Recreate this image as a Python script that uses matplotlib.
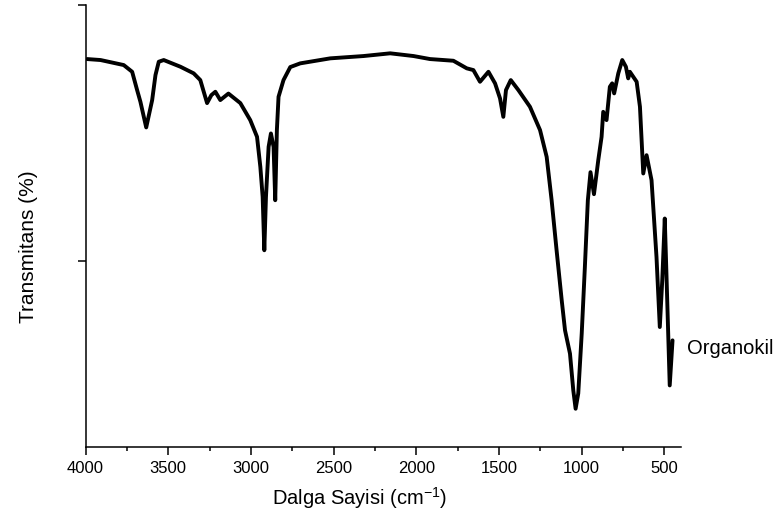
import matplotlib
matplotlib.use("Agg")
import matplotlib.pyplot as plt
from matplotlib.ticker import MultipleLocator, NullFormatter

plt.rcParams["font.family"] = ["Liberation Sans", "DejaVu Sans"]
plt.rcParams["mathtext.default"] = "regular"

# FTIR spectrum (wavenumber cm-1, transmittance %)
wavenumber = [
    3990, 3909, 3769, 3718, 3688, 3668, 3633, 3597, 3577, 3557, 3527, 3426,
    3346, 3306, 3265, 3239, 3215, 3185, 3136, 3064, 3004, 2963, 2943, 2929,
    2919, 2909, 2893, 2879, 2863, 2853, 2843, 2833, 2803, 2762, 2702, 2520,
    2319, 2158, 2017, 1917, 1776, 1695, 1655, 1615, 1564, 1524, 1494, 1474,
    1458, 1429, 1383, 1313, 1252, 1212, 1182, 1152, 1121, 1101, 1071, 1051,
    1037, 1021, 1000, 981, 963, 947, 926, 900, 880, 870, 850, 830,
    816, 804, 779, 755, 733, 719, 709, 668, 648, 628, 608, 578,
    548, 528, 513, 498, 488, 468, 451,
]
transmittance = [
    89.45, 89.26, 88.28, 86.97, 83.40, 81.11, 76.11, 81.45, 86.33, 88.93, 89.26, 87.95,
    86.66, 85.35, 80.86, 82.42, 83.07, 81.45, 82.72, 80.86, 77.54, 74.28, 68.42, 62.56,
    52.15, 62.56, 72.33, 74.94, 72.33, 61.91, 75.59, 82.09, 85.35, 87.89, 88.61, 89.59,
    90.04, 90.57, 90.04, 89.45, 89.12, 87.64, 87.30, 85.02, 86.97, 84.71, 81.78, 78.18,
    83.40, 85.35, 83.40, 80.14, 75.59, 70.37, 61.91, 52.15, 42.39, 36.53, 31.98, 24.81,
    21.23, 24.22, 35.94, 48.89, 61.91, 67.38, 63.09, 69.73, 74.28, 79.16, 77.54, 84.04,
    84.71, 82.75, 86.66, 89.26, 87.95, 85.68, 86.97, 85.02, 80.14, 67.13, 70.70, 65.82,
    50.84, 37.17, 46.40, 58.34, 47.66, 25.78, 34.57,
]
sample_label = "Organokil"
x_label = "Dalga Sayisi (cm$^{-1}$)"
y_label = "Transmitans (%)"

fig = plt.figure(figsize=(7.83, 5.14), dpi=100)
ax = fig.add_axes([0.1092, 0.1294, 0.7605, 0.8609])

ax.plot(wavenumber, transmittance, color="black", linewidth=2.8,
        solid_joinstyle="round", solid_capstyle="round")

ax.set_xlim(4000, 400)
ax.set_ylim(13.67, 100)

for side in ("top", "right"):
    ax.spines[side].set_visible(False)
for side in ("left", "bottom"):
    ax.spines[side].set_linewidth(1.1)

ax.xaxis.set_major_locator(MultipleLocator(500))
ax.xaxis.set_minor_locator(MultipleLocator(250))
ax.set_yticks([50, 100])
ax.yaxis.set_major_formatter(NullFormatter())
ax.tick_params(axis="both", which="major", direction="out", length=6, width=1.1, labelsize=12)
ax.tick_params(axis="x", which="minor", direction="out", length=3, width=1.1)

ax.set_xlabel(x_label, fontsize=14.5, labelpad=2)
ax.xaxis.set_label_coords(0.461, -0.085)
ax.set_ylabel(y_label, fontsize=15)
ax.yaxis.set_label_coords(-0.08, 0.453)

ax.text(365, 33.0, sample_label, fontsize=14.5, ha="left", va="center", clip_on=False)

fig.savefig("out.png", dpi=100)
